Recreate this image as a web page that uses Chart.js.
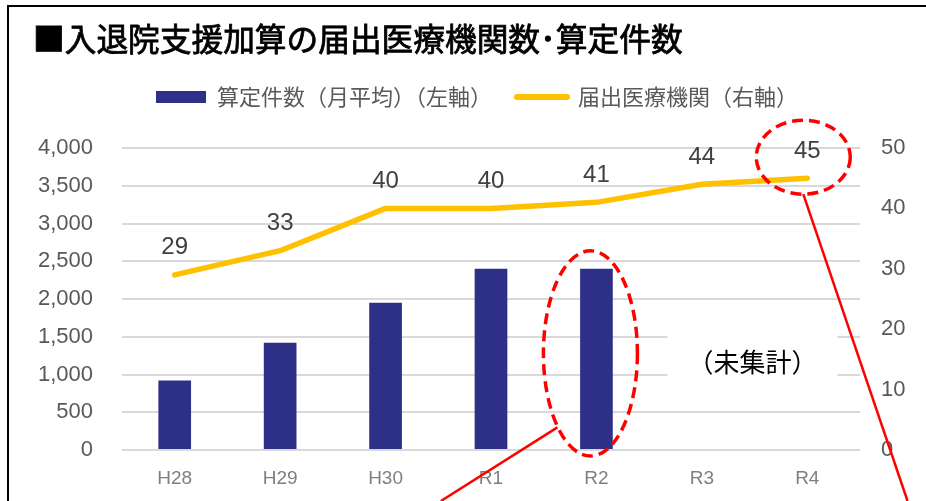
<!DOCTYPE html>
<html>
<head>
<meta charset="utf-8">
<script src="https://cdn.jsdelivr.net/npm/chart.js@4.4.1/dist/chart.umd.min.js"></script>
<style>
  html, body { margin: 0; padding: 0; background: #fff; }
  #wrap { width: 926px; height: 501px; }
</style>
</head>
<body>
<div id="wrap"><canvas id="chart" width="926" height="501"></canvas></div>
<script>
const categories = ['H28', 'H29', 'H30', 'R1', 'R2', 'R3', 'R4'];
const claimsMonthly = [920, 1420, 1950, 2400, 2400, null, null];
const facilities = [29, 33, 40, 40, 41, 44, 45];
const leftMax = 4000, leftStep = 500;
const rightMax = 50, rightStep = 10;
const titleText = '■入退院支援加算の届出医療機関数･算定件数';
const notCounted = '（未集計）';

const jpFont = '"Noto Sans CJK JP", "Noto Sans", sans-serif';
const numFont = '"Liberation Sans", Arial, sans-serif';

// value labels above the line points
const lineLabels = {
  id: 'lineLabels',
  afterDatasetsDraw(chart) {
    const ctx = chart.ctx;
    const meta = chart.getDatasetMeta(1);
    ctx.save();
    ctx.font = '24px ' + numFont;
    ctx.fillStyle = '#404040';
    ctx.textAlign = 'center';
    ctx.textBaseline = 'middle';
    meta.data.forEach((pt, i) => {
      ctx.fillText(String(facilities[i]), pt.x, pt.y - 27);
    });
    ctx.restore();
  }
};

// "(未集計)" note with a white box over the gridlines
const noteBox = {
  id: 'noteBox',
  beforeDatasetsDraw(chart) {
    const ctx = chart.ctx;
    const x = chart.scales.x;
    const cx = (x.getPixelForValue(5) + x.getPixelForValue(6)) / 2 - 2;
    const cy = chart.scales.y.getPixelForValue(1160);
    ctx.save();
    ctx.fillStyle = '#fff';
    ctx.fillRect(cx - 85, cy - 45, 170, 85);
    ctx.font = '26px ' + jpFont;
    ctx.fillStyle = '#000';
    ctx.textAlign = 'center';
    ctx.textBaseline = 'middle';
    ctx.fillText(notCounted, cx, cy);
    ctx.restore();
  }
};

// title, frame, red dashed circles and leader lines
const markup = {
  id: 'markup',
  afterLayout(chart) {
    chart.legend.left += 14;
    chart.legend.right += 14;
  },
  afterDraw(chart) {
    const ctx = chart.ctx;
    const bar = chart.getDatasetMeta(0).data[4];
    const pt = chart.getDatasetMeta(1).data[6];
    const H = chart.height;

    ctx.save();
    ctx.fillStyle = '#000';
    ctx.fillRect(7, 5, chart.width - 7, 2);
    ctx.fillRect(7, 5, 2, H - 5);

    ctx.font = '31.7px ' + jpFont;
    ctx.textAlign = 'left';
    ctx.textBaseline = 'middle';
    ctx.strokeStyle = '#000';
    ctx.lineWidth = 0.8;
    ctx.fillText(titleText, 33, 39);
    ctx.strokeText(titleText, 33, 39);

    ctx.strokeStyle = '#ff0000';
    ctx.lineWidth = 3.5;
    ctx.setLineDash([11, 6]);

    const top1 = bar.y - 18, bot1 = bar.base + 7;
    const c1x = bar.x - 6, c1y = (top1 + bot1) / 2, r1x = 47, r1y = (bot1 - top1) / 2;
    ctx.beginPath();
    ctx.ellipse(c1x, c1y, r1x, r1y, 0, 0, Math.PI * 2);
    ctx.stroke();

    const c2x = pt.x - 4, c2y = pt.y - 21, r2x = 47, r2y = 37;
    ctx.beginPath();
    ctx.ellipse(c2x, c2y, r2x, r2y, 0, 0, Math.PI * 2);
    ctx.stroke();

    ctx.setLineDash([]);
    ctx.lineWidth = 2.5;
    const s1x = c1x - 33, s1y = c1y + 74;
    ctx.beginPath();
    ctx.moveTo(s1x, s1y);
    ctx.lineTo(s1x - (H - s1y) * 114 / 72, H);
    ctx.stroke();
    const s2x = c2x, s2y = c2y + r2y;
    ctx.beginPath();
    ctx.moveTo(s2x, s2y);
    ctx.lineTo(s2x + (H - s2y) * 105 / 309, H);
    ctx.stroke();
    ctx.restore();
  }
};

// extra room below the legend
const legendGap = {
  id: 'legendGap',
  beforeInit(chart) {
    const fit = chart.legend.fit;
    chart.legend.fit = function () {
      fit.bind(chart.legend)();
      this.height += 30;
    };
  }
};

new Chart(document.getElementById('chart'), {
  data: {
    labels: categories,
    datasets: [
      {
        type: 'bar',
        label: '算定件数（月平均）（左軸）',
        data: claimsMonthly,
        backgroundColor: '#2E3087',
        barPercentage: 0.62,
        categoryPercentage: 0.5,
        yAxisID: 'y',
        order: 2
      },
      {
        type: 'line',
        label: '届出医療機関（右軸）',
        data: facilities,
        borderColor: '#FFC000',
        backgroundColor: '#FFC000',
        borderWidth: 5.5,
        borderCapStyle: 'round',
        borderJoinStyle: 'round',
        pointRadius: 0,
        tension: 0,
        yAxisID: 'y1',
        order: 1
      }
    ]
  },
  options: {
    responsive: false,
    animation: false,
    layout: { padding: { left: 0, right: 0, top: 61, bottom: 0 } },
    plugins: {
      title: { display: false },
      legend: {
        display: true,
        labels: {
          color: '#595959',
          font: { family: jpFont, size: 22 },
          usePointStyle: true,
          pointStyleWidth: 50,
          boxHeight: 12,
          padding: 25,
          generateLabels() {
            return [
              { text: '算定件数（月平均）（左軸）', fillStyle: '#2E3087', strokeStyle: '#2E3087', lineWidth: 0, pointStyle: 'rect', fontColor: '#595959', datasetIndex: 0 },
              { text: '届出医療機関（右軸）', fillStyle: '#FFC000', strokeStyle: '#FFC000', lineWidth: 6, lineCap: 'round', pointStyle: 'line', fontColor: '#595959', datasetIndex: 1 }
            ];
          }
        }
      },
      tooltip: { enabled: false }
    },
    scales: {
      x: {
        grid: { display: false },
        border: { display: false },
        ticks: { color: '#7F7F7F', font: { family: numFont, size: 19 }, padding: 9 },
        afterFit(s) { s.height = 51; }
      },
      y: {
        position: 'left',
        min: 0,
        max: leftMax,
        ticks: {
          stepSize: leftStep,
          color: '#595959',
          font: { family: numFont, size: 22 },
          padding: 29,
          callback: (v) => v.toLocaleString('en-US')
        },
        grid: { color: '#D9D9D9', lineWidth: 2, drawTicks: false },
        border: { display: false },
        afterFit(s) { s.width = 122; }
      },
      y1: {
        position: 'right',
        min: 0,
        max: rightMax,
        ticks: {
          stepSize: rightStep,
          color: '#595959',
          font: { family: numFont, size: 22 },
          padding: 21
        },
        grid: { display: false, drawTicks: false },
        border: { display: false },
        afterFit(s) { s.width = 66; }
      }
    }
  },
  plugins: [lineLabels, noteBox, markup, legendGap]
});
</script>
</body>
</html>
